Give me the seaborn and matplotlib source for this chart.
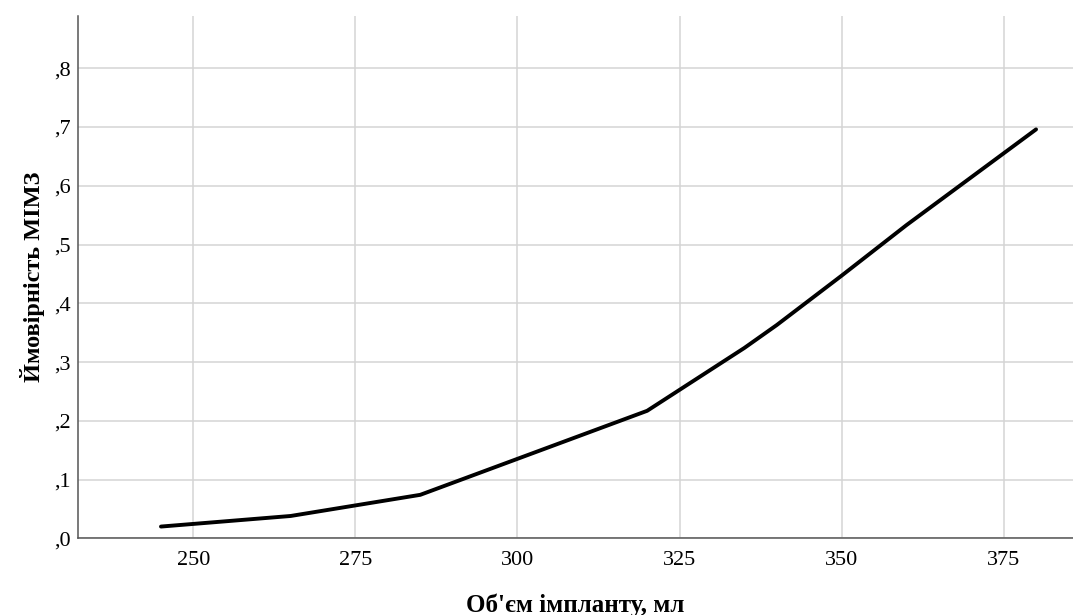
import pandas as pd
import matplotlib.pyplot as plt
import seaborn as sns
from matplotlib.ticker import FuncFormatter

# Values
volume = [245, 265, 285, 320, 335, 340, 350, 360, 380]
probability = [0.020, 0.038, 0.074, 0.217, 0.324, 0.363, 0.447, 0.533, 0.696]
x_ticks = [250, 275, 300, 325, 350, 375]
y_ticks = [0.0, 0.1, 0.2, 0.3, 0.4, 0.5, 0.6, 0.7, 0.8]

df = pd.DataFrame({"volume": volume, "probability": probability})

sns.set_style("white")
plt.rcParams['font.family'] = ['Liberation Serif', 'DejaVu Serif']
plt.rcParams['text.color'] = 'black'
plt.rcParams['axes.labelcolor'] = 'black'
plt.rcParams['xtick.color'] = 'black'
plt.rcParams['ytick.color'] = 'black'

fig = plt.figure(figsize=(10.73, 6.15), dpi=100)
ax = fig.add_axes([0.0727, 0.1247, 0.9273, 0.8493])

sns.lineplot(data=df, x="volume", y="probability", color="black", linewidth=2.8, ax=ax)

ax.set_xlim(232.2, 385.7)
ax.set_ylim(0, 0.889)
ax.set_xticks(x_ticks)
ax.set_yticks(y_ticks)
ax.yaxis.set_major_formatter(FuncFormatter(lambda v, p: ("%.1f" % v).lstrip("0").replace(".", ",")))
ax.tick_params(axis="x", length=0, labelsize=16, pad=9)
ax.tick_params(axis="y", length=0, labelsize=16, pad=5)
ax.grid(True, color="#d4d4d4", linewidth=1.1)
ax.set_axisbelow(True)

for side in ["top", "right"]:
    ax.spines[side].set_visible(False)
for side in ["left", "bottom"]:
    ax.spines[side].set_color("#555555")
    ax.spines[side].set_linewidth(1.1)

ax.set_xlabel("Об'єм імпланту, мл", fontsize=18, fontweight="bold", labelpad=17)
ax.set_ylabel("Ймовірність МІМЗ", fontsize=17.5, fontweight="bold", labelpad=7)

fig.savefig("out.png", dpi=100)
